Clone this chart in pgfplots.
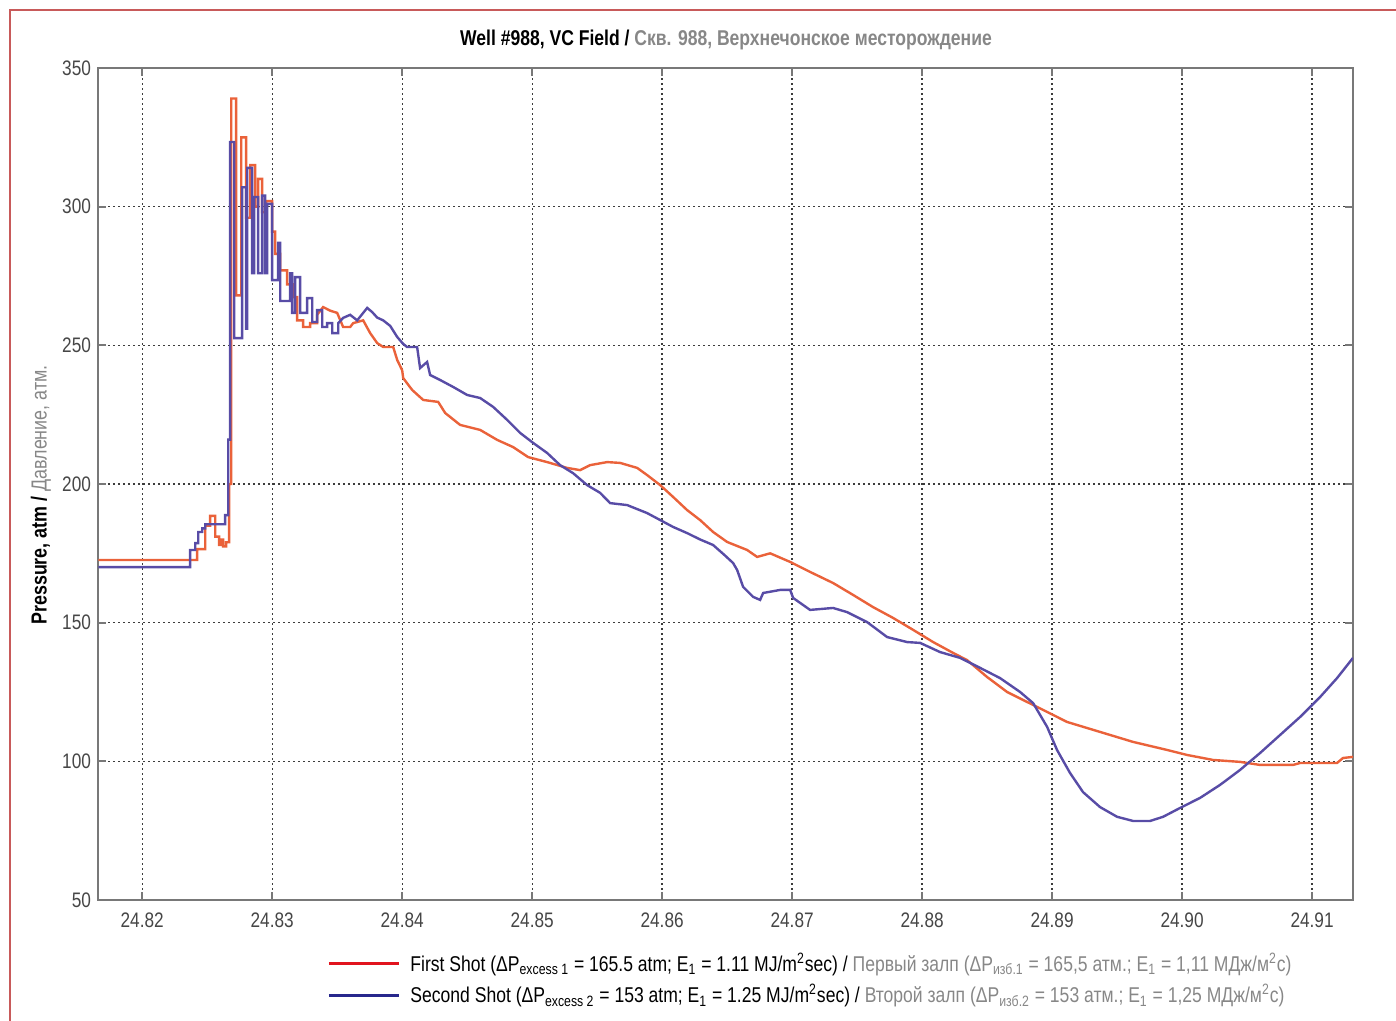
\documentclass[border=0pt]{standalone}
\usepackage{fontspec}
\setmainfont{Liberation Sans}[FakeStretch=0.82]
\usepackage{pgfplots}
\pgfplotsset{compat=1.18}
\definecolor{plotred}{RGB}{234,98,58}
\definecolor{plotblue}{RGB}{88,76,166}
\definecolor{legred}{RGB}{225,20,30}
\definecolor{legblue}{RGB}{40,40,140}
\definecolor{graytxt}{RGB}{135,135,135}
\definecolor{ticktxt}{RGB}{70,70,70}
\definecolor{axisgray}{RGB}{120,120,120}
\definecolor{gridgray}{RGB}{60,60,60}
\definecolor{framered}{RGB}{200,90,90}

\begin{document}
\begin{tikzpicture}
\useasboundingbox (0,0) rectangle (698pt,510.5pt);
\draw[framered, line width=0.6pt] (5pt,0) -- (5pt,505.5pt) -- (698pt,505.5pt);
\node[font=\bfseries\fontsize{10.7}{13}\selectfont] at (363pt,490.5pt)
  {Well \#988, VC Field / \textcolor{graytxt}{Скв. 988, Верхнечонское месторождение}};
\node[rotate=90, font=\fontsize{10.9}{13}\selectfont] at (20.5pt,263pt)
  {\textbf{Pressure, atm /} \textcolor{graytxt}{Давление, атм.}};

\begin{axis}[
  at={(49pt,60.5pt)}, anchor=south west,
  scale only axis, width=627.5pt, height=416pt,
  xmin=24.8166, xmax=24.91315, ymin=50, ymax=350,
  xtick={24.82,24.83,24.84,24.85,24.86,24.87,24.88,24.89,24.90,24.91},
  ytick={50,100,150,200,250,300,350},
  scaled x ticks=false,
  xticklabel style={/pgf/number format/.cd, fixed, fixed zerofill, precision=2, /tikz/.cd, yshift=-3pt},
  /pgf/number format/assume math mode=true,
  tick label style={font=\fontsize{10.5}{12}\selectfont, color=ticktxt},
  grid=major,
  grid style={gridgray, line width=0.65pt, dash pattern=on 1pt off 1.5pt},
  axis line style={axisgray, line width=1pt},
  tick style={axisgray, line width=1pt},
  tick align=inside, major tick length=4pt,
  legend style={at={(0.1825,-0.058)}, anchor=north west, draw=none, fill=none,
    font=\fontsize{10.7}{12}\selectfont, row sep=1.2pt, inner sep=0pt},
  legend cell align=left,
  legend image code/.code={\draw[#1] (0pt,0pt) -- (35pt,0pt); \path (38pt,0pt);},
]
\addplot[plotred, line width=1.2pt, forget plot] coordinates {
(24.81662,172.6)(24.82423,172.6)(24.82423,176.5)(24.82485,176.5)(24.82485,185)(24.82523,185)
(24.82523,188.5)(24.82562,188.5)(24.82562,181)(24.82592,181)(24.82592,178)(24.82608,178)
(24.82608,180)(24.82623,180)(24.82623,177.5)(24.82646,177.5)(24.82646,179)(24.82669,179)
(24.82669,200)(24.82685,200)(24.82685,339)(24.82723,339)(24.82723,268)(24.82762,268)
(24.82762,325)(24.82800,325)(24.82800,296)(24.82831,296)(24.82831,315)(24.82869,315)
(24.82869,300)(24.82892,300)(24.82892,310)(24.82923,310)(24.82923,298)(24.82954,298)
(24.82954,302)(24.83000,302)(24.83000,291)(24.83023,291)(24.83023,283)(24.83062,283)
(24.83062,277)(24.83115,277)(24.83115,272)(24.83162,272)(24.83162,267.4)(24.83192,267.4)
(24.83192,259)(24.83238,259)(24.83238,256.6)(24.83292,256.6)(24.83292,258)(24.83346,258)
(24.83346,261)(24.83392,263.8)(24.83446,262.5)(24.83500,261.7)(24.83546,256.6)(24.83600,256.6)
(24.83623,258)(24.83700,259)(24.83754,254.4)(24.83808,250.8)(24.83854,249.4)(24.83931,249.4)
(24.83962,244.7)(24.84000,241)(24.84008,238.2)(24.84077,233.9)(24.84162,230.3)(24.84277,229.6)
(24.84331,225.6)(24.84446,221.3)(24.84600,219.5)(24.84731,215.9)(24.84854,213.3)(24.84969,209.7)
(24.85115,207.9)(24.85269,205.8)(24.85369,205)(24.85446,206.8)(24.85577,207.9)(24.85677,207.6)
(24.85808,205.8)(24.85885,203.2)(24.85985,199.6)(24.86085,195.3)(24.86192,190.6)(24.86292,187)
(24.86392,182.7)(24.86500,179.1)(24.86654,176.2)(24.86731,173.7)(24.86831,175)(24.86985,171.9)
(24.87138,168.3)(24.87315,164.3)(24.87469,160)(24.87623,155.6)(24.87777,151.7)(24.87931,147.4)
(24.88085,143)(24.88238,139.1)(24.88346,136.5)(24.88500,130.4)(24.88654,125)(24.88808,121.4)
(24.88962,117.8)(24.89115,114.2)(24.89369,110.6)(24.89623,107)(24.89885,104.1)(24.90038,102.3)
(24.90238,100.5)(24.90446,99.8)(24.90600,98.7)(24.90854,98.7)(24.90908,99.4)(24.91192,99.4)
(24.91238,101.2)(24.91315,101.6)
};
\addplot[plotblue, line width=1.2pt, forget plot] coordinates {
(24.81662,170)(24.82369,170)(24.82369,176.2)(24.82408,176.2)(24.82408,178.7)(24.82431,178.7)
(24.82431,182.7)(24.82462,182.7)(24.82462,184)(24.82485,184)(24.82485,185.5)(24.82638,185.5)
(24.82638,188.8)(24.82662,188.8)(24.82662,216)(24.82677,216)(24.82677,323.3)(24.82708,323.3)
(24.82708,252.6)(24.82769,252.6)(24.82769,307)(24.82800,307)(24.82800,256)(24.82808,256)
(24.82808,314)(24.82846,314)(24.82846,276)(24.82862,276)(24.82862,303.5)(24.82892,303.5)
(24.82892,276)(24.82923,276)(24.82923,304)(24.82946,304)(24.82946,276)(24.82962,276)
(24.82962,301)(24.83000,301)(24.83000,273.5)(24.83046,273.5)(24.83046,287)(24.83062,287)
(24.83062,266)(24.83138,266)(24.83138,276)(24.83154,276)(24.83154,261.7)(24.83177,261.7)
(24.83177,274.6)(24.83215,274.6)(24.83215,261.7)(24.83269,261.7)(24.83269,267)(24.83308,267)
(24.83308,258.4)(24.83346,258.4)(24.83346,262.7)(24.83385,262.7)(24.83385,256.6)(24.83423,256.6)
(24.83423,258)(24.83462,258)(24.83462,254.4)(24.83508,254.4)(24.83508,258)(24.83546,259.9)
(24.83600,261)(24.83654,259)(24.83731,263.5)(24.83769,262)(24.83808,260)(24.83854,259)
(24.83908,257)(24.83962,253)(24.84008,250.5)(24.84038,249.4)(24.84115,249.4)(24.84138,241.8)
(24.84192,244)(24.84215,239.3)(24.84292,237.5)(24.84392,235)(24.84500,232.1)(24.84600,231)
(24.84700,227.8)(24.84808,223.1)(24.84908,218.4)(24.85008,214.8)(24.85115,211.2)(24.85215,206.8)
(24.85315,203.9)(24.85423,199.6)(24.85523,196.8)(24.85600,193.1)(24.85731,192.4)(24.85885,189.5)
(24.85985,187)(24.86085,184.5)(24.86192,182.3)(24.86292,180)(24.86392,178)(24.86477,174.5)
(24.86546,171.5)(24.86577,169)(24.86623,162.9)(24.86700,159.3)(24.86754,158.2)(24.86777,160.7)
(24.86908,161.8)(24.86985,161.8)(24.87008,158.9)(24.87138,154.6)(24.87315,155.3)(24.87423,153.8)
(24.87577,150.2)(24.87731,144.8)(24.87885,143)(24.87985,142.7)(24.88138,139.4)(24.88292,137.3)
(24.88446,133.7)(24.88600,130)(24.88754,125)(24.88854,121)(24.88962,112.4)(24.89038,104.1)
(24.89138,95.8)(24.89238,88.9)(24.89369,83.5)(24.89500,80)(24.89623,78.5)(24.89754,78.5)
(24.89854,80)(24.89985,83.2)(24.90138,86.8)(24.90292,91.5)(24.90446,96.9)(24.90600,103)
(24.90754,109.5)(24.90908,116)(24.91062,123.2)(24.91192,130)(24.91315,137.3)
};
\addlegendimage{legred, line width=1.5pt}
\addlegendentry{First Shot (ΔP\textsubscript{excess 1} = 165.5 atm; E\textsubscript{1} = 1.11 MJ/m\textsuperscript{2}sec) / \textcolor{graytxt}{Первый залп (ΔP\textsubscript{изб.1} = 165,5 атм.; E\textsubscript{1} = 1,11 МДж/м\textsuperscript{2}с)}}
\addlegendimage{legblue, line width=1.5pt}
\addlegendentry{Second Shot (ΔP\textsubscript{excess 2} = 153 atm; E\textsubscript{1} = 1.25 MJ/m\textsuperscript{2}sec) / \textcolor{graytxt}{Второй залп (ΔP\textsubscript{изб.2} = 153 атм.; E\textsubscript{1} = 1,25 МДж/м\textsuperscript{2}с)}}
\end{axis}
\end{tikzpicture}
\end{document}
